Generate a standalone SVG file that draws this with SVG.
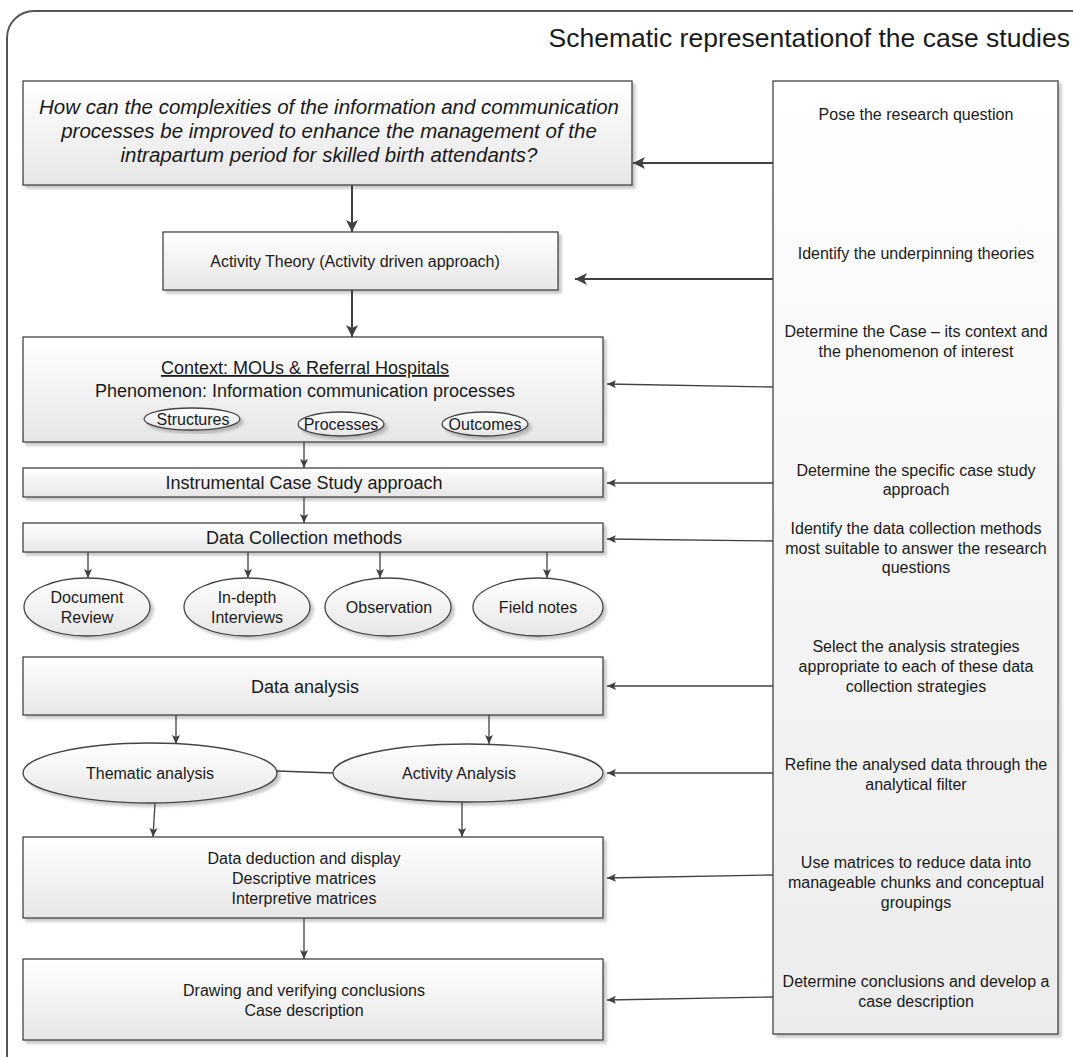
<svg xmlns="http://www.w3.org/2000/svg" width="1073" height="1057" viewBox="0 0 1073 1057">
  <defs>
    <linearGradient id="fillBox" x1="0" y1="0" x2="0" y2="1">
      <stop offset="0" stop-color="#ffffff"/>
      <stop offset="1" stop-color="#e6e6e6"/>
    </linearGradient>
    <linearGradient id="fillPanel" x1="0" y1="0" x2="0" y2="1">
      <stop offset="0" stop-color="#ffffff"/>
      <stop offset="1" stop-color="#ececec"/>
    </linearGradient>
    <filter id="shadow" x="-5%" y="-5%" width="115%" height="120%">
      <feDropShadow dx="3" dy="3" stdDeviation="1.8" flood-color="#000" flood-opacity="0.22"/>
    </filter>
    <marker id="headL" markerUnits="userSpaceOnUse" markerWidth="14" markerHeight="12" refX="12" refY="6" orient="auto">
      <path d="M0,0 L12,6 L0,12 L3,6 z" fill="#404040"/>
    </marker>
    <marker id="headS" markerUnits="userSpaceOnUse" markerWidth="11" markerHeight="9" refX="9" refY="4" orient="auto">
      <path d="M0,0 L9,4 L0,8 L2,4 z" fill="#404040"/>
    </marker>
    <style>
      .frame { fill: none; stroke: #555; stroke-width: 2; }
      .box { fill: url(#fillBox); stroke: #444; stroke-width: 1.3; filter: url(#shadow); }
      .panel { fill: url(#fillPanel); stroke: #444; stroke-width: 1.3; filter: url(#shadow); }
      .oval { fill: url(#fillBox); stroke: #444; stroke-width: 1.3; filter: url(#shadow); }
      .t { font-family: "Liberation Sans", Arial, sans-serif; fill: #1a1a1a; text-anchor: middle; }
      .q { font-size: 20.5px; font-style: italic; }
      .m { font-size: 18px; }
      .s { font-size: 16px; }
      .title { font-family: "Liberation Sans", Arial, sans-serif; font-size: 26.5px; fill: #1a1a1a; text-anchor: end; }
      .big { fill: none; stroke: #404040; stroke-width: 2; marker-end: url(#headL); }
      .thin { fill: none; stroke: #404040; stroke-width: 1.3; marker-end: url(#headS); }
      .plain { fill: none; stroke: #404040; stroke-width: 1.3; }
    </style>
  </defs>

  <rect width="1073" height="1057" fill="#ffffff"/>

  <!-- outer frame with rounded top-left corner -->
  <path class="frame" d="M7,1057 V38 A27,27 0 0 1 34,11 H1073"/>
  <text class="title" x="1070" y="47">Schematic representationof the case studies</text>

  <!-- right-hand column of research steps -->
  <g id="steps">
    <rect class="panel" x="773" y="81" width="285" height="953"/>
    <g class="t s">
      <text x="916" y="120">Pose the research question</text>
      <text x="916" y="259">Identify the underpinning theories</text>
      <text x="916" y="337">Determine the Case – its context and</text>
      <text x="916" y="357">the phenomenon of interest</text>
      <text x="916" y="476">Determine the specific case study</text>
      <text x="916" y="495">approach</text>
      <text x="916" y="534">Identify the data collection methods</text>
      <text x="916" y="554">most suitable to answer the research</text>
      <text x="916" y="573">questions</text>
      <text x="916" y="652">Select the analysis strategies</text>
      <text x="916" y="672">appropriate to each of these data</text>
      <text x="916" y="692">collection strategies</text>
      <text x="916" y="770">Refine the analysed data through the</text>
      <text x="916" y="790">analytical filter</text>
      <text x="916" y="868">Use matrices to reduce data into</text>
      <text x="916" y="888">manageable chunks and conceptual</text>
      <text x="916" y="908">groupings</text>
      <text x="916" y="987">Determine conclusions and develop a</text>
      <text x="916" y="1007">case description</text>
    </g>
  </g>

  <g id="question">
    <rect class="box" x="23" y="81" width="609" height="104"/>
    <g class="t q">
      <text x="329" y="114">How can the complexities of the information and communication</text>
      <text x="329" y="138">processes be improved to enhance the management of the</text>
      <text x="329" y="162">intrapartum period for skilled birth attendants?</text>
    </g>
  </g>

  <g id="activity-theory">
    <rect class="box" x="163" y="232" width="395" height="58"/>
    <text class="t s" x="355" y="267">Activity Theory (Activity driven approach)</text>
  </g>

  <g id="context">
    <rect class="box" x="23" y="337" width="580" height="105"/>
    <text class="t m" x="305" y="374" text-decoration="underline">Context: MOUs &amp; Referral Hospitals</text>
    <text class="t m" x="305" y="397">Phenomenon: Information communication processes</text>
    <g id="structures">
      <ellipse class="oval" cx="192" cy="419" rx="48" ry="11"/>
      <text class="t s" x="193" y="425">Structures</text>
    </g>
    <g id="processes">
      <ellipse class="oval" cx="341" cy="424" rx="43" ry="12"/>
      <text class="t s" x="341" y="430">Processes</text>
    </g>
    <g id="outcomes">
      <ellipse class="oval" cx="485" cy="424" rx="43" ry="12"/>
      <text class="t s" x="485" y="430">Outcomes</text>
    </g>
  </g>

  <g id="instrumental">
    <rect class="box" x="23" y="468" width="580" height="29"/>
    <text class="t m" x="304" y="489">Instrumental Case Study approach</text>
  </g>

  <g id="data-collection">
    <rect class="box" x="23" y="523" width="580" height="29"/>
    <text class="t m" x="304" y="544">Data Collection methods</text>
  </g>

  <g id="document-review">
    <ellipse class="oval" cx="87" cy="607" rx="63" ry="29"/>
    <text class="t s" x="87" y="603">Document</text>
    <text class="t s" x="87" y="623">Review</text>
  </g>
  <g id="interviews">
    <ellipse class="oval" cx="247" cy="607" rx="63" ry="29"/>
    <text class="t s" x="247" y="603">In-depth</text>
    <text class="t s" x="247" y="623">Interviews</text>
  </g>
  <g id="observation">
    <ellipse class="oval" cx="388" cy="607" rx="63" ry="29"/>
    <text class="t s" x="389" y="613">Observation</text>
  </g>
  <g id="field-notes">
    <ellipse class="oval" cx="538" cy="607" rx="65" ry="29"/>
    <text class="t s" x="538" y="613">Field notes</text>
  </g>

  <g id="data-analysis">
    <rect class="box" x="23" y="657" width="580" height="58"/>
    <text class="t m" x="305" y="693">Data analysis</text>
  </g>

  <g id="thematic">
    <ellipse class="oval" cx="150" cy="773" rx="127" ry="30"/>
    <text class="t s" x="150" y="779">Thematic analysis</text>
  </g>
  <g id="activity-analysis">
    <ellipse class="oval" cx="468" cy="773" rx="135" ry="29"/>
    <text class="t s" x="459" y="779">Activity Analysis</text>
  </g>

  <g id="deduction">
    <rect class="box" x="23" y="837" width="580" height="81"/>
    <g class="t s">
      <text x="304" y="864">Data deduction and display</text>
      <text x="304" y="884">Descriptive matrices</text>
      <text x="304" y="904">Interpretive matrices</text>
    </g>
  </g>

  <g id="conclusions">
    <rect class="box" x="23" y="959" width="580" height="81"/>
    <g class="t s">
      <text x="304" y="996">Drawing and verifying conclusions</text>
      <text x="304" y="1016">Case description</text>
    </g>
  </g>

  <!-- connectors -->
  <g id="connectors">
    <path class="big" d="M773,163 H633"/>
    <path class="big" d="M352,185 V232"/>
    <path class="big" d="M773,279 H575"/>
    <path class="big" d="M352,290 V337"/>

    <path class="thin" d="M773,387 L607,384"/>
    <path class="thin" d="M304,442 V468"/>
    <path class="thin" d="M773,483 H607"/>
    <path class="thin" d="M304,497 V523"/>
    <path class="thin" d="M773,541 L607,539"/>

    <path class="thin" d="M88,552 V578"/>
    <path class="thin" d="M248,552 V578"/>
    <path class="thin" d="M380,552 V578"/>
    <path class="thin" d="M547,552 V578"/>

    <path class="thin" d="M773,686 H607"/>
    <path class="thin" d="M176,715 V744"/>
    <path class="thin" d="M489,715 V744"/>
    <path class="plain" d="M277,771 L333,773"/>
    <path class="thin" d="M773,773 H607"/>

    <path class="thin" d="M155,803 L153,837"/>
    <path class="thin" d="M462,802 V837"/>
    <path class="thin" d="M773,875 L607,878"/>
    <path class="thin" d="M304,918 V959"/>
    <path class="thin" d="M773,997 L607,1000"/>
  </g>
</svg>
